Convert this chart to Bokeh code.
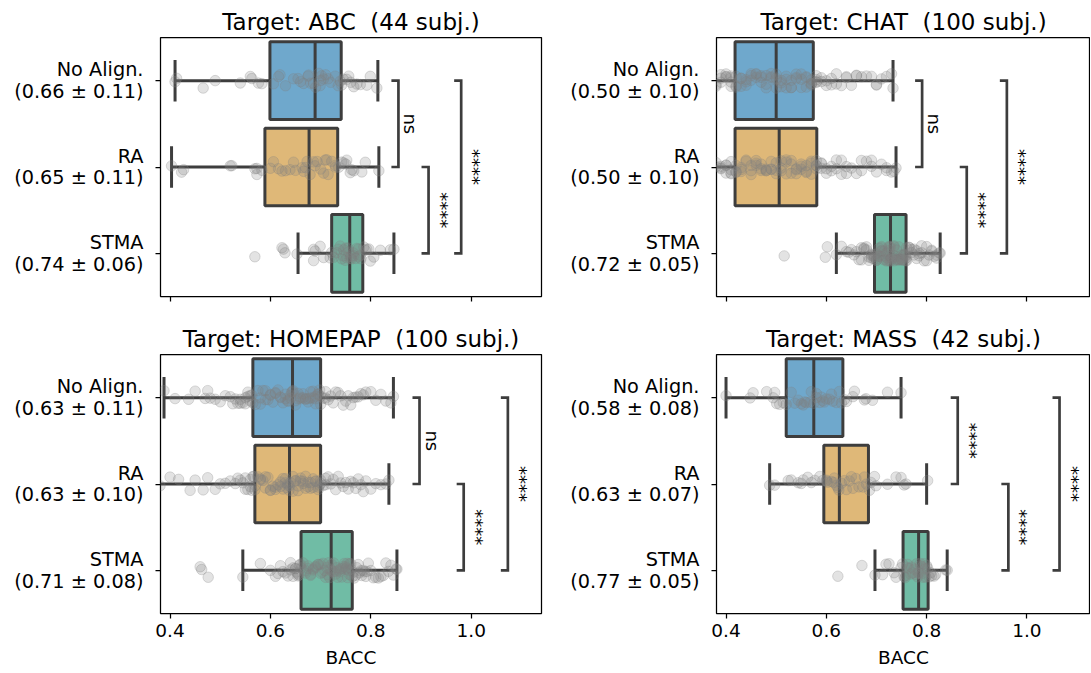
import math
from bokeh.plotting import figure
from bokeh.layouts import gridplot
from bokeh.models import ColumnDataSource, FixedTicker, Range1d, PrintfTickFormatter, CustomJSTickFormatter
from bokeh.transform import jitter, dodge
from bokeh.core.properties import value
from bokeh.embed import file_html
from bokeh.resources import INLINE

# ---------------- data ----------------
methods = ["No Align.", "RA", "STMA"]
box_colors = ["#6FA8CC", "#DFB878", "#70BCA5"]
x_ticks = [0.4, 0.6, 0.8, 1.0]

# ABC (44 subjects)
abc_title = "Target: ABC \u00a0(44 subj.)"
abc_stats = ["0.66 ± 0.11", "0.65 ± 0.11", "0.74 ± 0.06"]
abc_noalign = [0.410,0.413,0.466,0.490,0.540,0.560,0.563,0.576,0.583,0.606,0.616,0.619,0.630,0.646,0.655,
               0.660,0.666,0.675,0.676,0.680,0.686,0.690,0.696,0.699,0.700,0.702,0.706,0.710,0.715,0.720,
               0.729,0.735,0.739,0.742,0.745,0.752,0.756,0.760,0.766,0.772,0.779,0.792,0.799,0.812]
abc_ra = [0.403,0.423,0.427,0.520,0.523,0.569,0.573,0.573,0.583,0.600,0.606,0.616,0.623,0.630,0.639,
          0.646,0.650,0.663,0.666,0.670,0.673,0.679,0.686,0.689,0.693,0.700,0.706,0.709,0.712,0.715,
          0.722,0.729,0.730,0.736,0.742,0.746,0.750,0.752,0.759,0.762,0.766,0.782,0.789,0.816]
abc_stma = [0.569,0.623,0.626,0.629,0.653,0.686,0.686,0.689,0.699,0.706,0.719,0.722,0.726,0.732,0.735,
            0.739,0.742,0.745,0.746,0.749,0.750,0.752,0.755,0.756,0.759,0.760,0.762,0.765,0.766,0.770,
            0.772,0.775,0.776,0.779,0.780,0.786,0.789,0.792,0.796,0.799,0.806,0.819,0.839,0.846]
abc_lo = [0.410, 0.403, 0.655]
abc_q1 = [0.599, 0.589, 0.722]
abc_med = [0.689, 0.677, 0.758]
abc_q3 = [0.741, 0.734, 0.784]
abc_hi = [0.814, 0.816, 0.846]

# CHAT (100 subjects)
chat_title = "Target: CHAT \u00a0(100 subj.)"
chat_stats = ["0.50 ± 0.10", "0.50 ± 0.10", "0.72 ± 0.05"]
chat_noalign = [0.27,0.29,0.31,0.32,0.33,0.34,0.35,0.35,0.36,0.37,0.37,0.38,0.38,0.39,0.39,0.39,0.40,0.40,0.40,0.41,0.41,0.41,0.41,0.42,0.42,
                0.42,0.43,0.43,0.43,0.44,0.44,0.44,0.45,0.45,0.45,0.46,0.46,0.46,0.47,0.47,0.47,0.48,0.48,0.48,0.49,0.49,0.49,0.50,0.50,0.50,
                0.50,0.51,0.51,0.51,0.52,0.52,0.52,0.53,0.53,0.53,0.54,0.54,0.54,0.55,0.55,0.55,0.56,0.56,0.56,0.57,0.57,0.57,0.57,0.58,0.58,
                0.58,0.58,0.59,0.59,0.60,0.60,0.61,0.61,0.62,0.62,0.63,0.64,0.64,0.65,0.66,0.66,0.67,0.68,0.69,0.70,0.70,0.71,0.72,0.73,0.733]
chat_ra = [0.28,0.30,0.31,0.33,0.34,0.35,0.35,0.36,0.37,0.37,0.38,0.38,0.39,0.39,0.39,0.40,0.40,0.40,0.41,0.41,0.41,0.41,0.42,0.42,0.42,
           0.43,0.43,0.43,0.44,0.44,0.45,0.45,0.45,0.46,0.46,0.46,0.47,0.47,0.47,0.48,0.48,0.48,0.49,0.49,0.49,0.50,0.50,0.50,0.51,0.51,
           0.51,0.52,0.52,0.52,0.53,0.53,0.53,0.54,0.54,0.54,0.55,0.55,0.55,0.56,0.56,0.56,0.57,0.57,0.57,0.58,0.58,0.58,0.58,0.59,0.59,
           0.59,0.60,0.60,0.61,0.61,0.62,0.62,0.63,0.63,0.64,0.64,0.65,0.66,0.67,0.67,0.68,0.69,0.69,0.70,0.71,0.72,0.72,0.73,0.735,0.739]
chat_stma = [0.516,0.598,0.602,0.62,0.63,0.64,0.645,0.65,0.655,0.66,0.665,0.67,0.67,0.675,0.675,0.68,0.68,0.685,0.685,0.69,0.69,0.69,0.695,0.695,0.695,
             0.70,0.70,0.70,0.70,0.705,0.705,0.705,0.71,0.71,0.71,0.71,0.715,0.715,0.715,0.72,0.72,0.72,0.72,0.725,0.725,0.725,0.725,0.728,0.728,0.728,
             0.73,0.73,0.73,0.735,0.735,0.735,0.735,0.74,0.74,0.74,0.74,0.745,0.745,0.745,0.75,0.75,0.75,0.75,0.755,0.755,0.755,0.758,0.758,0.759,0.759,
             0.76,0.76,0.765,0.765,0.77,0.77,0.775,0.775,0.78,0.78,0.785,0.785,0.79,0.79,0.795,0.80,0.80,0.805,0.81,0.81,0.815,0.82,0.82,0.825,0.827]
chat_lo = [0.27, 0.28, 0.620]
chat_q1 = [0.418, 0.418, 0.696]
chat_med = [0.500, 0.506, 0.728]
chat_q3 = [0.574, 0.581, 0.759]
chat_hi = [0.733, 0.739, 0.827]

# HOMEPAP (100 subjects)
home_title = "Target: HOMEPAP \u00a0(100 subj.)"
home_stats = ["0.63 ± 0.11", "0.63 ± 0.10", "0.71 ± 0.08"]
home_noalign = [0.388,0.41,0.437,0.45,0.47,0.475,0.48,0.49,0.50,0.51,0.52,0.525,0.53,0.535,0.54,0.54,0.545,0.55,0.55,0.555,0.555,0.56,0.56,0.563,0.565,
                0.57,0.575,0.58,0.58,0.585,0.59,0.59,0.595,0.60,0.60,0.605,0.61,0.61,0.615,0.62,0.62,0.625,0.63,0.63,0.635,0.635,0.64,0.64,0.642,0.644,
                0.645,0.65,0.65,0.655,0.655,0.66,0.66,0.665,0.665,0.67,0.67,0.675,0.675,0.68,0.68,0.685,0.685,0.69,0.69,0.69,0.695,0.695,0.698,0.70,0.70,
                0.705,0.71,0.71,0.715,0.72,0.725,0.73,0.735,0.74,0.745,0.75,0.755,0.76,0.765,0.77,0.775,0.78,0.785,0.79,0.80,0.81,0.82,0.83,0.84,0.845]
home_ra = [0.36,0.38,0.40,0.417,0.44,0.45,0.466,0.475,0.49,0.50,0.51,0.52,0.53,0.535,0.54,0.545,0.55,0.55,0.555,0.56,0.56,0.563,0.565,0.567,0.569,
           0.57,0.575,0.58,0.58,0.585,0.59,0.59,0.595,0.60,0.60,0.605,0.61,0.61,0.615,0.62,0.62,0.625,0.625,0.63,0.63,0.632,0.635,0.635,0.637,0.638,
           0.64,0.645,0.645,0.65,0.65,0.655,0.655,0.66,0.66,0.665,0.665,0.67,0.67,0.675,0.675,0.68,0.68,0.685,0.685,0.69,0.69,0.695,0.695,0.698,0.70,
           0.70,0.705,0.71,0.71,0.715,0.72,0.725,0.73,0.735,0.74,0.745,0.75,0.755,0.76,0.765,0.77,0.775,0.78,0.785,0.79,0.80,0.81,0.82,0.83,0.836]
home_stma = [0.46,0.463,0.476,0.545,0.58,0.60,0.61,0.615,0.62,0.625,0.63,0.635,0.64,0.64,0.645,0.645,0.65,0.65,0.652,0.655,0.655,0.657,0.658,0.66,0.661,
             0.665,0.67,0.67,0.675,0.675,0.68,0.68,0.685,0.685,0.69,0.69,0.695,0.695,0.70,0.70,0.703,0.705,0.708,0.71,0.712,0.714,0.716,0.718,0.72,0.721,
             0.722,0.724,0.726,0.728,0.73,0.732,0.734,0.736,0.738,0.74,0.742,0.744,0.745,0.747,0.749,0.75,0.751,0.753,0.754,0.755,0.757,0.758,0.76,0.761,0.763,
             0.765,0.767,0.77,0.772,0.775,0.777,0.78,0.782,0.785,0.787,0.79,0.792,0.795,0.80,0.805,0.81,0.815,0.82,0.825,0.83,0.835,0.84,0.845,0.85,0.852]
home_lo = [0.388, 0.36, 0.545]
home_q1 = [0.565, 0.569, 0.661]
home_med = [0.644, 0.638, 0.721]
home_q3 = [0.700, 0.700, 0.763]
home_hi = [0.845, 0.836, 0.852]

# MASS (42 subjects)
mass_title = "Target: MASS \u00a0(42 subj.)"
mass_stats = ["0.58 ± 0.08", "0.63 ± 0.07", "0.77 ± 0.05"]
mass_noalign = [0.400,0.448,0.454,0.481,0.494,0.497,0.501,0.507,0.514,0.520,0.530,0.537,0.544,0.550,0.554,0.557,0.560,0.567,0.570,0.575,
                0.580,0.580,0.587,0.590,0.593,0.596,0.600,0.606,0.610,0.613,0.620,0.626,0.630,0.636,0.640,0.653,0.656,0.676,0.679,0.692,
                0.722,0.749]
mass_ra = [0.487,0.497,0.524,0.530,0.544,0.550,0.554,0.563,0.570,0.577,0.587,0.593,0.600,0.600,0.603,0.610,0.615,0.616,0.620,0.623,
           0.625,0.630,0.636,0.640,0.646,0.650,0.653,0.659,0.665,0.673,0.676,0.680,0.686,0.689,0.696,0.699,0.722,0.739,0.749,0.755,
           0.759,0.802]
mass_stma = [0.623,0.671,0.697,0.712,0.719,0.725,0.735,0.739,0.749,0.752,0.755,0.757,0.759,0.760,0.762,0.765,0.768,0.770,0.772,0.775,
             0.778,0.780,0.782,0.783,0.785,0.787,0.788,0.790,0.791,0.793,0.795,0.797,0.798,0.800,0.802,0.805,0.808,0.810,0.815,0.818,
             0.838,0.841]
mass_lo = [0.400, 0.487, 0.697]
mass_q1 = [0.520, 0.595, 0.753]
mass_med = [0.575, 0.626, 0.784]
mass_q3 = [0.633, 0.684, 0.803]
mass_hi = [0.749, 0.800, 0.841]

# significance annotations: (first group, second group, bracket position, label)
abc_sig = [(0, 1, 0.855, "ns"), (1, 2, 0.915, "****"), (0, 2, 0.980, "****")]
chat_sig = [(0, 1, 0.791, "ns"), (1, 2, 0.880, "****"), (0, 2, 0.960, "****")]
home_sig = [(0, 1, 0.897, "ns"), (1, 2, 0.985, "****"), (0, 2, 1.073, "****")]
mass_sig = [(0, 1, 0.862, "****"), (1, 2, 0.963, "****"), (0, 2, 1.065, "****")]

# ---------------- style ----------------
FONT = "DejaVu Sans"
EDGE = "#3d3d3d"
LW = 3.0
BOX_H = 0.9
CAP_H = 0.24
JIT = 0.18
BRACKET_TICK = 0.014


def make_panel(title, strips, stats_lbl, lo, q1, med, q3, hi, sig,
               x_end, bottom, b_left, b_right, b_top, b_bottom, fw, fh):
    p = figure(frame_width=fw, frame_height=fh,
               x_range=Range1d(0.381, x_end), y_range=Range1d(2.5, -0.5),
               output_backend="svg", toolbar_location=None,
               min_border_left=b_left, min_border_right=b_right,
               min_border_top=b_top, min_border_bottom=b_bottom,
               title=title)
    p.title.text_font = FONT
    p.title.text_font_size = "23px"
    p.title.text_font_style = "normal"
    p.title.text_color = "black"
    p.title.align = "center"
    p.title.standoff = 5
    p.xgrid.visible = False
    p.ygrid.visible = False
    p.outline_line_color = "black"
    p.outline_line_width = 1.25
    p.outline_line_alpha = 1.0
    p.background_fill_color = "white"
    p.border_fill_color = "white"

    box_src = ColumnDataSource(dict(y=[0, 1, 2], lo=lo, q1=q1, med=med, q3=q3, hi=hi, color=box_colors))
    # whiskers
    p.segment(x0="lo", y0="y", x1="q1", y1="y", source=box_src, line_color=EDGE, line_width=LW)
    p.segment(x0="q3", y0="y", x1="hi", y1="y", source=box_src, line_color=EDGE, line_width=LW)
    # caps
    p.segment(x0="lo", x1="lo", y0=dodge("y", -CAP_H), y1=dodge("y", CAP_H), source=box_src,
              line_color=EDGE, line_width=LW)
    p.segment(x0="hi", x1="hi", y0=dodge("y", -CAP_H), y1=dodge("y", CAP_H), source=box_src,
              line_color=EDGE, line_width=LW)
    # boxes
    p.hbar(y="y", left="q1", right="q3", height=BOX_H, source=box_src,
           fill_color="color", line_color=EDGE, line_width=LW)
    # medians
    p.segment(x0="med", x1="med", y0=dodge("y", -BOX_H / 2), y1=dodge("y", BOX_H / 2), source=box_src,
              line_color=EDGE, line_width=LW)

    # strip points
    xs, ys = [], []
    for i, vals in enumerate(strips):
        xs += list(vals)
        ys += [i] * len(vals)
    pt_src = ColumnDataSource(dict(x=xs, y=ys))
    p.scatter(x="x", y=jitter("y", width=JIT, distribution="uniform"), source=pt_src, size=10.5,
              fill_color="gray", fill_alpha=0.22, line_color="gray", line_alpha=0.28, line_width=1)

    # significance brackets
    bxs, bys, tx, ty, tt = [], [], [], [], []
    for a, b, xb, lab in sig:
        bxs.append([xb - BRACKET_TICK, xb, xb, xb - BRACKET_TICK])
        bys.append([a, a, b, b])
        tx.append(xb)
        ty.append((a + b) / 2)
        tt.append(lab)
    p.multi_line(xs=bxs, ys=bys, line_color=EDGE, line_width=2.7, line_join="miter")
    p.text(x=tx, y=ty, text=tt, angle=-math.pi / 2, text_align="center", text_baseline="bottom",
           x_offset=2, text_font=value(FONT), text_font_size="18px", text_color="black")

    # axes
    p.xaxis.ticker = FixedTicker(ticks=x_ticks)
    p.yaxis.ticker = FixedTicker(ticks=[0, 1, 2])
    p.yaxis.major_label_overrides = {i: f"{m}\n({s})" for i, (m, s) in enumerate(zip(methods, stats_lbl))}
    for ax in (p.xaxis[0], p.yaxis[0]):
        ax.axis_line_color = None
        ax.major_tick_line_color = "black"
        ax.major_tick_line_width = 1.25
        ax.major_tick_out = 5
        ax.major_tick_in = 0
        ax.minor_tick_line_color = None
        ax.major_label_text_font = FONT
        ax.major_label_text_color = "black"
    p.xaxis.major_label_text_font_size = "18.5px"
    p.yaxis.major_label_text_font_size = "19.3px"
    p.yaxis.major_label_text_line_height = 0.95
    p.yaxis.major_label_standoff = 12
    if bottom:
        p.xaxis.formatter = PrintfTickFormatter(format="%.1f")
        p.xaxis.major_label_standoff = 5
        p.xaxis.axis_label = "BACC"
        p.xaxis.axis_label_text_font = FONT
        p.xaxis.axis_label_text_font_size = "18.5px"
        p.xaxis.axis_label_text_font_style = "normal"
        p.xaxis.axis_label_text_color = "black"
        p.xaxis.axis_label_standoff = 7
    else:
        p.xaxis.formatter = CustomJSTickFormatter(code="return ''")
        p.xaxis.major_label_standoff = 0
    return p


FW_L, FW_R, FH = 381, 374, 259
p1 = make_panel(abc_title, [abc_noalign, abc_ra, abc_stma], abc_stats,
                abc_lo, abc_q1, abc_med, abc_q3, abc_hi, abc_sig,
                1.140, False, 160, 15, 37, 21, FW_L, FH)
p2 = make_panel(chat_title, [chat_noalign, chat_ra, chat_stma], chat_stats,
                chat_lo, chat_q1, chat_med, chat_q3, chat_hi, chat_sig,
                0.381 + FW_R / 501.5, False, 160, 0, 37, 21, FW_R, FH)
p3 = make_panel(home_title, [home_noalign, home_ra, home_stma], home_stats,
                home_lo, home_q1, home_med, home_q3, home_hi, home_sig,
                1.140, True, 160, 15, 37, 58, FW_L, FH)
p4 = make_panel(mass_title, [mass_noalign, mass_ra, mass_stma], mass_stats,
                mass_lo, mass_q1, mass_med, mass_q3, mass_hi, mass_sig,
                0.381 + FW_R / 501.5, True, 160, 0, 37, 58, FW_R, FH)

grid = gridplot([[p1, p2], [p3, p4]], toolbar_location=None)
open("out.html", "w").write(file_html(grid, INLINE))
